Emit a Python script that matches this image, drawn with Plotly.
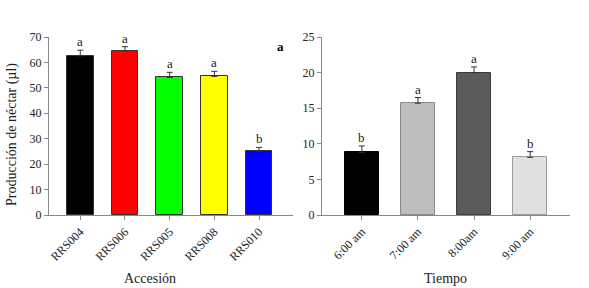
import plotly.graph_objects as go

accesiones = ["RRS004", "RRS006", "RRS005", "RRS008", "RRS010"]
nectar = [62.6, 64.5, 54.1, 54.5, 25.2]
nectar_err = [2.2, 1.7, 2.0, 2.0, 1.4]
nectar_letras = ["a", "a", "a", "a", "b"]
nectar_colores = ["#000000", "#FF0000", "#00FF00", "#FFFF00", "#0000FF"]

tiempos = ["6:00 am", "7:00 am", "8:00am", "9:00 am"]
tiempo_vals = [8.8, 15.7, 20.0, 8.1]
tiempo_err = [0.9, 0.8, 0.8, 0.8]
tiempo_letras = ["b", "a", "a", "b"]
tiempo_colores = ["#000000", "#BEBEBE", "#5A5A5A", "#E0E0E0"]
tiempo_bordes = ["#000000", "#8A8A8A", "#3A3A3A", "#9A9A9A"]

FONT = "Liberation Serif"

fig = go.Figure()
fig.add_trace(go.Bar(
    x=list(range(len(accesiones))), y=nectar, width=0.6,
    marker=dict(color=nectar_colores, line=dict(color="#333333", width=1)),
    error_y=dict(type="data", array=nectar_err, arrayminus=[0]*len(nectar),
                 symmetric=False, color="#333333", thickness=1, width=3),
    xaxis="x", yaxis="y", showlegend=False))
fig.add_trace(go.Bar(
    x=list(range(len(tiempos))), y=tiempo_vals, width=0.6,
    marker=dict(color=tiempo_colores, line=dict(color=tiempo_bordes, width=1)),
    error_y=dict(type="data", array=tiempo_err, arrayminus=[0]*len(tiempo_vals),
                 symmetric=False, color="#333333", thickness=1, width=3),
    xaxis="x2", yaxis="y2", showlegend=False))

ann = []
for i, (v, e, l) in enumerate(zip(nectar, nectar_err, nectar_letras)):
    ann.append(dict(x=i, y=v + e, text=l, xref="x", yref="y", showarrow=False,
                    yanchor="bottom", yshift=-1, font=dict(family=FONT, size=13, color="#222")))
for i, (v, e, l) in enumerate(zip(tiempo_vals, tiempo_err, tiempo_letras)):
    ann.append(dict(x=i, y=v + e, text=l, xref="x2", yref="y2", showarrow=False,
                    yanchor="bottom", yshift=-1, font=dict(family=FONT, size=13, color="#222")))
ann.append(dict(x=280/589, y=1-46/288, xref="paper", yref="paper", text="<b>a</b>",
                xanchor="center", yanchor="middle",
                showarrow=False, font=dict(family=FONT, size=13, color="#000")))
ann.append(dict(x=150/589, y=1-278/288, xref="paper", yref="paper", text="Accesión",
                xanchor="center", yanchor="middle",
                showarrow=False, font=dict(family=FONT, size=14, color="#222")))
ann.append(dict(x=445/589, y=1-278/288, xref="paper", yref="paper", text="Tiempo",
                xanchor="center", yanchor="middle",
                showarrow=False, font=dict(family=FONT, size=14, color="#222")))
ann.append(dict(x=12/589, y=1-135/288, xref="paper", yref="paper",
                text="Producción de néctar (µl)", textangle=-90,
                xanchor="center", yanchor="middle",
                showarrow=False, font=dict(family=FONT, size=14, color="#222")))

axis_common = dict(showline=True, linecolor="#888888", linewidth=1, ticks="outside",
                   ticklen=4, tickcolor="#888888", showgrid=False, zeroline=False,
                   automargin=False,
                   tickfont=dict(family=FONT, size=12, color="#222"))

fig.update_layout(
    width=589, height=288, margin=dict(l=0, r=0, t=0, b=0),
    paper_bgcolor="white", plot_bgcolor="white",
    annotations=ann, bargap=0,
    xaxis=dict(domain=[49/589, 293/589], range=[-0.7, 4.76], tickmode="array",
               tickvals=list(range(len(accesiones))), ticktext=accesiones,
               tickangle=-45, anchor="y", **axis_common),
    yaxis=dict(domain=[1-215/288, 1-37/288], range=[0, 70], dtick=10, anchor="x",
               **axis_common),
    xaxis2=dict(domain=[322/589, 570/589], range=[-0.71, 3.71], tickmode="array",
                tickvals=list(range(len(tiempos))), ticktext=tiempos,
                tickangle=-45, anchor="y2", **axis_common),
    yaxis2=dict(domain=[1-215/288, 1-37/288], range=[0, 25], dtick=5, anchor="x2",
                **axis_common),
)

fig.write_html("out.html", config={"displayModeBar": False},
               post_script="document.body.style.margin='0px';")
